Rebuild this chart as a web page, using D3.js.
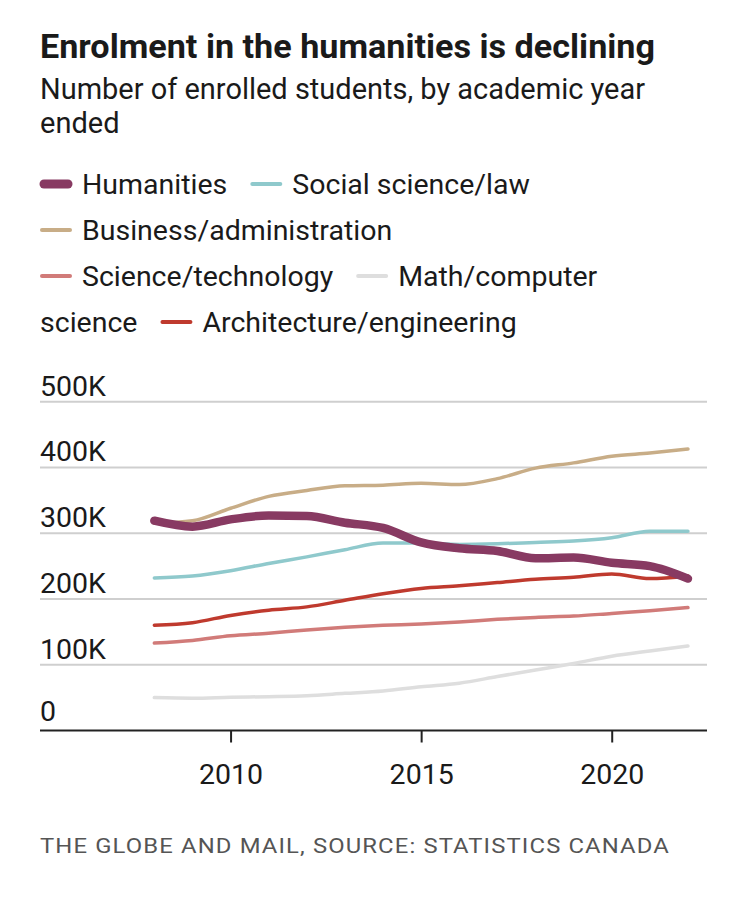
<!DOCTYPE html>
<html>
<head>
<meta charset="utf-8">
<script src="https://cdn.jsdelivr.net/npm/d3@7"></script>
<style>
  html, body { margin: 0; padding: 0; background: #fff; }
  svg { display: block; }
  text { font-family: Roboto, "Liberation Sans", sans-serif; fill: #1a1a1a; }
</style>
</head>
<body>
<svg id="chart" width="750" height="910"></svg>
<script>
// ---------- data ----------
const years = [2008, 2009, 2010, 2011, 2012, 2013, 2014, 2015, 2016, 2017, 2018, 2019, 2020, 2021, 2022];

const humanities   = [319000, 310000, 321000, 327000, 326000, 316000, 308000, 286000, 277000, 273000, 262000, 263000, 255000, 250000, 231000];
const socialLaw    = [232000, 235000, 243000, 254000, 264000, 275000, 285000, 285000, 283000, 284000, 286000, 288000, 293000, 303000, 303000];
const business     = [315000, 319000, 338000, 356000, 365000, 372000, 373000, 376000, 374000, 383000, 399000, 407000, 417000, 422000, 428000];
const scienceTech  = [133000, 137000, 144000, 148000, 153000, 157000, 160000, 162000, 165000, 169000, 172000, 174000, 178000, 182000, 187000];
const mathComp     = [50000, 49000, 50500, 51500, 53000, 56500, 60000, 66500, 72000, 82000, 92000, 102000, 113000, 121000, 128500];
const archEng      = [160000, 164000, 175000, 183000, 188000, 198000, 208000, 216000, 220000, 225000, 230000, 233000, 238000, 231000, 235000];

const seriesNames  = ["Humanities", "Social science/law", "Business/administration", "Science/technology", "Math/computer science", "Architecture/engineering"];
const seriesColors = ["#883a62", "#8fc9cc", "#c8ad87", "#d17b79", "#dedede", "#bf3a2e"];
const seriesValues = [humanities, socialLaw, business, scienceTech, mathComp, archEng];

const yTicks = [0, 100000, 200000, 300000, 400000, 500000];
const yTickLabels = ["0", "100K", "200K", "300K", "400K", "500K"];
const xTicks = [2010, 2015, 2020];

const titleText = "Enrolment in the humanities is declining";
const subtitleLines = ["Number of enrolled students, by academic year", "ended"];
const sourceText = "THE GLOBE AND MAIL, SOURCE: STATISTICS CANADA";

// ---------- drawing ----------
const svg = d3.select("#chart");

svg.append("text")
  .attr("x", 40).attr("y", 58)
  .attr("font-size", 34).attr("font-weight", 700)
  .attr("textLength", 615).attr("lengthAdjust", "spacingAndGlyphs")
  .text(titleText);

subtitleLines.forEach((line, i) => {
  const t = svg.append("text")
    .attr("x", 40).attr("y", 99 + i * 34)
    .attr("font-size", 29)
    .text(line);
  if (i === 0) t.attr("textLength", 605).attr("lengthAdjust", "spacingAndGlyphs");
});

// legend (flow layout)
const legend = svg.append("g");
const legendFont = 28.5;
const rowH = 46;
const maxRight = 684;
let lx = 40, ly = 194;
const measure = (str) => {
  const t = legend.append("text").attr("font-size", legendFont).text(str);
  const w = t.node().getComputedTextLength();
  t.remove();
  return w;
};
const spaceW = measure("a b") - measure("ab");
seriesNames.forEach((name, i) => {
  const words = name.split(" ");
  const swW = 32, swGap = 10, itemGap = 23;
  const firstW = measure(words[0]);
  if (i > 0) {
    if (lx + itemGap + swW + swGap + firstW > maxRight) { lx = 40; ly += rowH; }
    else lx += itemGap;
  }
  const isHum = i === 0;
  legend.append("line")
    .attr("x1", lx + (isHum ? 4 : 2)).attr("x2", lx + swW - (isHum ? 4 : 2))
    .attr("y1", ly - 10).attr("y2", ly - 10)
    .attr("stroke", seriesColors[i])
    .attr("stroke-width", isHum ? 9 : 4)
    .attr("stroke-linecap", "round");
  lx += swW + swGap;
  words.forEach((w, j) => {
    const ww = measure(w);
    if (j > 0) {
      if (lx + spaceW + ww > maxRight) { lx = 40; ly += rowH; }
      else lx += spaceW;
    }
    legend.append("text").attr("x", lx).attr("y", ly)
      .attr("font-size", legendFont).text(w);
    lx += ww;
  });
});

// scales
const x = d3.scaleLinear().domain([2005, 2022.5]).range([40, 707]);
const y = d3.scaleLinear().domain([0, 500000]).range([730.5, 401.7]);

// gridlines + y labels
const grid = svg.append("g");
yTicks.forEach((v, i) => {
  if (v !== 0) {
    grid.append("line")
      .attr("x1", 40).attr("x2", 707)
      .attr("y1", y(v)).attr("y2", y(v))
      .attr("stroke", "#cfcfcf").attr("stroke-width", 2);
  }
  grid.append("text")
    .attr("x", 40).attr("y", y(v) - (v === 0 ? 10 : 6))
    .attr("font-size", 28.5)
    .text(yTickLabels[i]);
});

// x axis
const xAxis = svg.append("g").attr("transform", `translate(0,${y(0)})`)
  .call(d3.axisBottom(x).tickValues(xTicks).tickFormat(d3.format("d")).tickSize(12).tickPadding(21));
xAxis.select(".domain").remove();
xAxis.selectAll(".tick line").attr("stroke", "#222").attr("stroke-width", 2);
xAxis.selectAll(".tick text").attr("font-size", 28.5).attr("fill", "#1a1a1a")
  .style("font-family", "Roboto, sans-serif");
svg.append("line")
  .attr("x1", 40).attr("x2", 707)
  .attr("y1", y(0)).attr("y2", y(0))
  .attr("stroke", "#222").attr("stroke-width", 2);

// lines
const line = d3.line()
  .x((d, i) => x(years[i]))
  .y(d => y(d))
  .curve(d3.curveMonotoneX);

const drawOrder = [4, 3, 5, 1, 2, 0];
drawOrder.forEach(i => {
  svg.append("path")
    .datum(seriesValues[i])
    .attr("d", line)
    .attr("fill", "none")
    .attr("stroke", seriesColors[i])
    .attr("stroke-width", i === 0 ? 8.5 : 3.5)
    .attr("stroke-linejoin", "round")
    .attr("stroke-linecap", "round");
});

// source
svg.append("text")
  .attr("x", 40).attr("y", 853)
  .attr("font-size", 21)
  .style("fill", "#555")
  .style("letter-spacing", "1px")
  .attr("textLength", 630).attr("lengthAdjust", "spacingAndGlyphs")
  .text(sourceText);
</script>
</body>
</html>
